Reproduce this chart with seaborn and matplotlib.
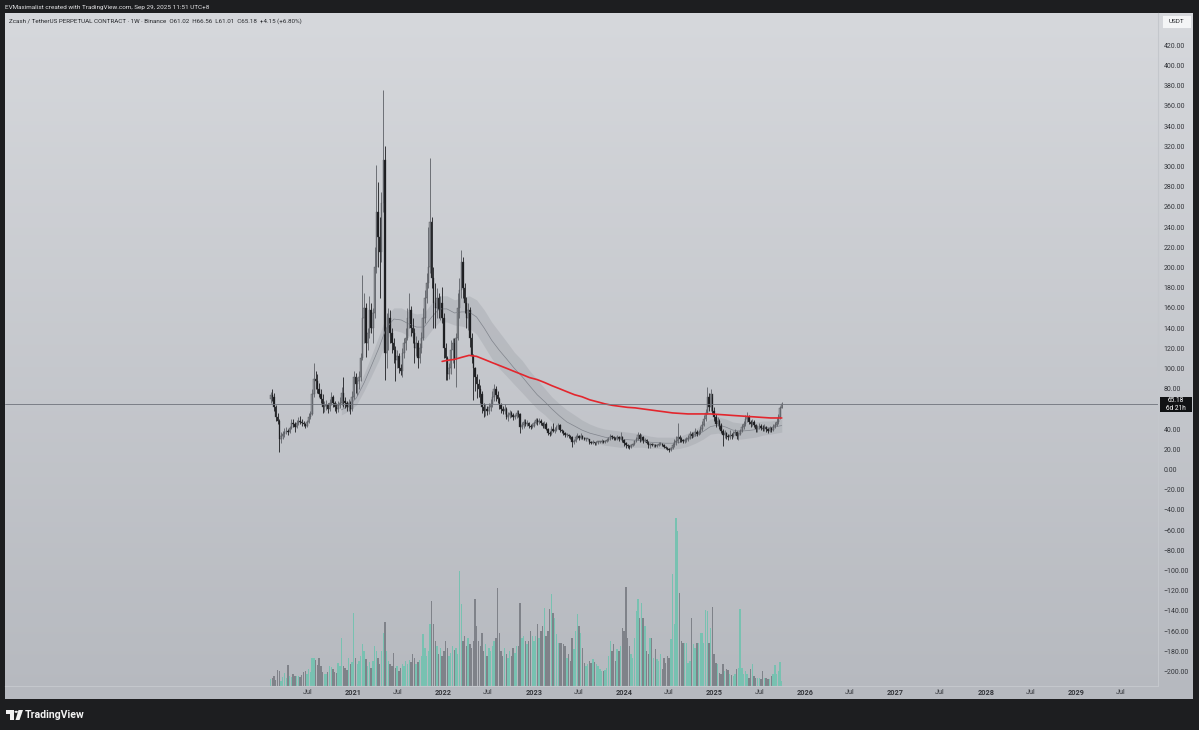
import matplotlib
matplotlib.use("Agg")
import matplotlib.pyplot as plt
from matplotlib.colors import LinearSegmentedColormap
from matplotlib.patches import Circle, Polygon, Rectangle
import numpy as np
import pandas as pd
import seaborn as sns

W, H = 1199, 730

# weekly ZEC/USDT perp candles, first week starts 2020-02-03
first_open = 70.0
close_2020 = [74, 72, 62, 52, 48, 30, 33, 35, 37, 38, 37, 41, 46, 45, 42, 46, 48, 47, 46, 45,
              43, 47, 52, 55, 75, 90, 88, 80, 75, 70, 62, 63, 64, 60, 66, 72, 66, 62, 60, 64,
              66, 76, 68, 66, 62, 66, 60, 72]
high_2020 = [77, 80, 76, 64, 56, 50, 37, 38, 41, 42, 40, 43, 50, 50, 47, 49, 52, 53, 50, 48,
             46, 49, 56, 58, 80, 105, 98, 95, 86, 80, 75, 68, 69, 66, 70, 77, 74, 68, 66, 68,
             72, 82, 92, 72, 68, 70, 68, 78]
low_2020 = [66, 68, 58, 48, 45, 17, 26, 30, 32, 35, 34, 36, 40, 42, 37, 41, 44, 45, 43, 43,
            41, 42, 46, 50, 54, 72, 80, 76, 72, 66, 56, 57, 59, 56, 58, 64, 62, 58, 56, 57,
            61, 64, 62, 61, 58, 58, 55, 58]

close_2021 = [92, 85, 88, 92, 110, 150, 160, 125, 135, 158, 140, 155, 200, 255, 230, 215, 264, 306, 115, 140,
              150, 135, 125, 118, 108, 112, 100, 98, 115, 125, 130, 150, 158, 140, 135, 120, 125, 110, 120, 130,
              150, 170, 185, 200, 245, 190, 165, 160, 170, 158, 165, 150]
high_2021 = [98, 96, 92, 98, 115, 193, 175, 165, 140, 172, 165, 160, 220, 301, 285, 250, 275, 376, 320, 155,
             160, 158, 140, 130, 122, 118, 115, 104, 120, 130, 140, 160, 175, 162, 150, 140, 132, 128, 125, 136,
             160, 178, 195, 240, 308, 250, 200, 185, 180, 175, 172, 181]
low_2021 = [70, 76, 74, 80, 88, 108, 125, 111, 118, 130, 135, 125, 150, 195, 200, 170, 205, 255, 89, 100,
            118, 125, 115, 105, 88, 100, 96, 94, 92, 110, 118, 128, 140, 132, 125, 105, 112, 100, 105, 115,
            128, 145, 165, 180, 195, 180, 140, 140, 150, 150, 148, 145]

close_2022 = [120, 110, 95, 100, 118, 125, 110, 130, 160, 178, 205, 180, 165, 150, 158, 130, 112, 100, 92, 85,
              80, 75, 62, 58, 60, 58, 62, 65, 72, 80, 74, 70, 64, 60, 58, 60, 52, 54, 56, 54,
              52, 53, 56, 55, 42, 44, 47, 45, 46, 43, 42, 43]
high_2022 = [155, 125, 112, 105, 128, 130, 130, 135, 175, 190, 217, 210, 185, 171, 165, 161, 135, 114, 101, 95,
             90, 84, 78, 66, 65, 63, 66, 70, 78, 85, 83, 78, 72, 66, 63, 65, 62, 57, 59, 58,
             56, 55, 59, 59, 56, 47, 50, 50, 49, 47, 45, 46]
low_2022 = [110, 89, 89, 90, 95, 105, 100, 82, 128, 150, 170, 170, 155, 140, 138, 121, 105, 69, 78, 71,
            72, 66, 56, 52, 53, 54, 55, 58, 62, 68, 68, 66, 60, 56, 55, 55, 50, 48, 51, 52,
            49, 50, 51, 52, 36, 40, 41, 43, 43, 41, 40, 41]

close_2023 = [46, 49, 47, 48, 46, 43, 45, 40, 36, 35, 40, 38, 39, 42, 44, 39, 38, 36, 34, 34,
              33, 32, 27, 28, 32, 33, 31, 33, 31, 30, 30, 30, 27, 26, 27, 26, 27, 27, 27, 28,
              27, 28, 29, 30, 33, 32, 31, 30, 32, 30, 32, 29]
high_2023 = [48, 51, 51, 51, 50, 47, 48, 47, 41, 38, 43, 46, 42, 44, 46, 45, 40, 39, 37, 36,
             35, 34, 33, 30, 34, 36, 34, 36, 34, 32, 31, 31, 30, 28, 29, 27, 28, 28, 28, 30,
             29, 29, 31, 32, 35, 34, 33, 32, 34, 33, 37, 33]
low_2023 = [42, 45, 44, 45, 44, 41, 41, 39, 34, 33, 34, 37, 36, 38, 40, 37, 36, 34, 32, 32,
            31, 30, 22, 25, 27, 30, 29, 30, 30, 29, 28, 29, 25, 25, 25, 24, 24, 25, 26, 26,
            26, 26, 27, 28, 29, 30, 29, 29, 29, 28, 29, 27]

close_2024 = [26, 24, 23, 22, 24, 25, 28, 30, 34, 30, 32, 28, 29, 26, 24, 25, 24, 24, 23, 24,
              25, 25, 24, 22, 21, 20, 19, 21, 24, 27, 28, 32, 30, 29, 28, 29, 30, 31, 35, 33,
              34, 37, 35, 37, 40, 44, 50, 56, 72, 62, 75, 58, 52]
high_2024 = [30, 27, 25, 24, 25, 26, 29, 32, 37, 36, 35, 33, 31, 30, 28, 26, 26, 25, 25, 25,
             27, 27, 26, 25, 23, 22, 21, 22, 26, 30, 33, 46, 34, 32, 30, 31, 32, 34, 38, 37,
             37, 41, 39, 39, 43, 48, 54, 60, 82, 76, 80, 72, 62]
low_2024 = [23, 21, 21, 20, 21, 23, 24, 27, 29, 27, 28, 26, 27, 25, 21, 21, 23, 22, 22, 22,
            23, 24, 23, 21, 20, 19, 17, 18, 20, 22, 24, 26, 27, 27, 26, 26, 27, 28, 30, 31,
            32, 33, 33, 34, 35, 38, 43, 48, 55, 58, 58, 55, 48]

close_2025 = [45, 48, 44, 38, 34, 36, 33, 32, 34, 33, 36, 37, 33, 35, 38, 42, 45, 50, 52, 47,
              45, 47, 44, 40, 42, 43, 41, 40, 42, 40, 38, 41, 39, 42, 44, 47, 52, 61.02, 65.18]
high_2025 = [55, 52, 50, 46, 40, 39, 37, 35, 39, 36, 38, 40, 38, 37, 40, 45, 48, 54, 57, 54,
             49, 50, 49, 45, 44, 46, 45, 44, 45, 43, 41, 43, 42, 45, 47, 51, 55, 63, 66.56]
low_2025 = [42, 43, 40, 36, 23, 31, 30, 29, 30, 30, 32, 34, 30, 29, 34, 37, 40, 43, 47, 45,
            42, 43, 42, 37, 37, 40, 39, 38, 38, 37, 36, 37, 37, 38, 41, 43, 45, 50, 61.01]

volume_2020 = [7, 8, 10, 6, 16, 15, 5, 9, 13, 8, 21, 10, 9, 12, 10, 10, 10, 9, 11, 14,
               15, 12, 17, 14, 28, 28, 26, 21, 28, 20, 14, 12, 12, 14, 20, 19, 17, 14, 13, 23,
               20, 48, 20, 18, 16, 28, 22, 24]
volume_2021 = [73, 28, 22, 25, 30, 42, 35, 27, 20, 24, 18, 25, 40, 35, 28, 22, 35, 53, 64, 35,
               25, 22, 20, 33, 18, 20, 15, 18, 22, 20, 25, 22, 26, 24, 32, 28, 22, 24, 26, 30,
               52, 38, 30, 35, 62, 85, 62, 45, 40, 32, 38, 30]
volume_2022 = [35, 45, 38, 30, 33, 40, 36, 38, 32, 115, 82, 45, 50, 40, 48, 42, 38, 45, 87, 60,
               45, 40, 53, 35, 42, 30, 38, 35, 40, 45, 48, 98, 53, 35, 30, 38, 32, 28, 35, 30,
               38, 33, 40, 40, 83, 48, 50, 45, 42, 45, 55, 50]
volume_2023 = [45, 50, 62, 48, 55, 60, 78, 50, 55, 77, 92, 73, 68, 52, 43, 43, 43, 42, 40, 28,
               32, 25, 48, 37, 55, 72, 60, 53, 38, 23, 20, 22, 25, 23, 27, 24, 22, 20, 17, 15,
               15, 16, 18, 30, 45, 35, 42, 25, 37, 35, 40, 58]
volume_2024 = [55, 99, 48, 40, 32, 28, 48, 75, 87, 68, 83, 68, 60, 35, 32, 48, 48, 28, 37, 27,
               25, 32, 17, 28, 23, 30, 28, 47, 112, 62, 168, 155, 93, 45, 43, 43, 43, 23, 25, 68,
               42, 38, 43, 43, 53, 53, 43, 76, 75, 43, 58, 79, 32]
volume_2025 = [23, 22, 13, 12, 22, 15, 17, 16, 12, 11, 10, 12, 17, 18, 77, 18, 12, 15, 12, 8,
               17, 22, 10, 8, 8, 8, 7, 15, 8, 8, 7, 7, 10, 12, 21, 12, 15, 24, 5]

# red long EMA
ema_dates = ["2021-12-27", "2022-01-15", "2022-02-15", "2022-03-15", "2022-04-15", "2022-05-15",
             "2022-06-15", "2022-07-15", "2022-08-15", "2022-09-15", "2022-10-15", "2022-11-15",
             "2022-12-15", "2023-01-15", "2023-02-15", "2023-03-15", "2023-04-15", "2023-05-15",
             "2023-06-15", "2023-07-15", "2023-08-15", "2023-09-15", "2023-10-15", "2023-11-15",
             "2023-12-15", "2024-01-15", "2024-02-15", "2024-03-15", "2024-04-15", "2024-05-15",
             "2024-06-15", "2024-07-15", "2024-08-15", "2024-09-15", "2024-10-15", "2024-11-15",
             "2024-12-15", "2025-01-15", "2025-02-15", "2025-03-15", "2025-04-15", "2025-05-15",
             "2025-06-15", "2025-07-15", "2025-08-15", "2025-09-29"]
ema_values = [107, 108, 109, 111, 113, 112, 109, 106, 103, 100, 97, 94,
              91, 89, 86, 83, 80, 77, 74, 72, 69, 67, 65, 63.5,
              62.5, 61.5, 61, 60, 59, 58, 57, 56, 55.5, 55, 55, 55,
              55, 54.5, 54, 53.5, 53, 52.5, 52, 51.5, 51, 51]

# grey channel
band_dates = ["2020-11-15", "2020-12-15", "2021-01-15", "2021-02-15", "2021-03-15", "2021-04-15",
              "2021-05-15", "2021-06-15", "2021-07-15", "2021-08-15", "2021-09-15", "2021-10-15",
              "2021-11-15", "2021-12-15", "2022-01-15", "2022-02-15", "2022-03-15", "2022-04-15",
              "2022-05-15", "2022-06-15", "2022-07-15", "2022-08-15", "2022-09-15", "2022-10-15",
              "2022-11-15", "2022-12-15", "2023-01-15", "2023-02-15", "2023-03-15", "2023-04-15",
              "2023-05-15", "2023-06-15", "2023-07-15", "2023-08-15", "2023-09-15", "2023-10-15",
              "2023-11-15", "2023-12-15", "2024-01-15", "2024-02-15", "2024-03-15", "2024-04-15",
              "2024-05-15", "2024-06-15", "2024-07-15", "2024-08-15", "2024-09-15", "2024-10-15",
              "2024-11-15", "2024-12-15", "2025-01-15", "2025-02-15", "2025-03-15", "2025-04-15",
              "2025-05-15", "2025-06-15", "2025-07-15", "2025-08-15", "2025-09-29"]
band_upper = [64, 68, 78, 95, 112, 132, 152, 160, 160, 156, 154, 155,
              165, 172, 172, 168, 170, 172, 168, 158, 146, 136, 126, 116,
              108, 98, 89, 80, 72, 65, 59, 54, 49, 45, 42, 40,
              39, 38, 37, 36, 35, 33, 32, 32, 32, 33, 36, 40,
              45, 50, 52, 50, 47, 46, 46, 47, 48, 48, 50]
band_mid = [59, 63, 71, 86, 102, 120, 140, 149, 148, 144, 141, 141,
            151, 159, 159, 155, 156, 156, 151, 140, 128, 118, 109, 100,
            92, 83, 74, 67, 60, 53, 47, 43, 39, 36, 34, 32,
            31, 30, 29.5, 29, 28.5, 27, 26.5, 26, 26, 27, 29.5, 33,
            37.5, 42.5, 44, 42, 39, 38, 38.5, 39.5, 41, 41.5, 43.5]
band_lower = [54, 58, 64, 78, 92, 108, 128, 138, 136, 132, 128, 128,
              138, 146, 146, 143, 142, 140, 134, 122, 110, 100, 92, 84,
              76, 68, 60, 54, 47, 41, 36, 32, 29, 27, 26, 24,
              23, 22, 22, 22, 22, 21, 21, 20, 20, 21, 23, 26,
              30, 35, 36, 34, 31, 30, 31, 32, 34, 35, 37]

price_ticks = list(range(-200, 421, 20))
time_tick_dates = ["2020-07-01", "2021-01-01", "2021-07-01", "2022-01-01", "2022-07-01",
                   "2023-01-01", "2023-07-01", "2024-01-01", "2024-07-01", "2025-01-01",
                   "2025-07-01", "2026-01-01", "2026-07-01", "2027-01-01", "2027-07-01",
                   "2028-01-01", "2028-07-01", "2029-01-01", "2029-07-01"]
time_tick_labels = ["Jul", "2021", "Jul", "2022", "Jul", "2023", "Jul", "2024", "Jul", "2025",
                    "Jul", "2026", "Jul", "2027", "Jul", "2028", "Jul", "2029", "Jul"]

title = ("Zcash / TetherUS PERPETUAL CONTRACT \u00b7 1W \u00b7 Binance  O61.02  H66.56  "
         "L61.01  C65.18  +4.15 (+6.80%)")
header = "EVMaximalist created with TradingView.com, Sep 29, 2025 11:51 UTC+8"

UP_BODY, DOWN_BODY = "#9a9da3", "#1c1d20"
UP_WICK, DOWN_WICK = "#5d6066", "#1c1d20"
VOL_UP, VOL_DOWN = "#78c1b1", "#7f8289"
RED = "#e3262d"


def box(x0, y0, x1, y1):
    # pixel box (from top-left) -> figure fraction rect
    return [x0 / W, 1 - y1 / H, (x1 - x0) / W, (y1 - y0) / H]


def fx(x):
    return x / W


def fy(y):
    return 1 - y / H


df = pd.DataFrame({
    "close": close_2020 + close_2021 + close_2022 + close_2023 + close_2024 + close_2025,
    "high": high_2020 + high_2021 + high_2022 + high_2023 + high_2024 + high_2025,
    "low": low_2020 + low_2021 + low_2022 + low_2023 + low_2024 + low_2025,
    "volume": volume_2020 + volume_2021 + volume_2022 + volume_2023 + volume_2024 + volume_2025,
})
df["date"] = pd.date_range("2020-02-03", periods=len(df), freq="7D")
df["open"] = df["close"].shift(1).fillna(first_open)
df["up"] = df["close"] >= df["open"]
last_close = df["close"].iloc[-1]

ema = pd.DataFrame({"date": pd.to_datetime(ema_dates), "ema": ema_values})
band = pd.DataFrame({"date": pd.to_datetime(band_dates), "upper": band_upper,
                     "mid": band_mid, "lower": band_lower})

sns.set_style("white")
plt.rcParams["font.family"] = ["Roboto", "DejaVu Sans"]

fig = plt.figure(figsize=(W / 100, H / 100), dpi=100, facecolor="#1d1e20")

# panel background gradient
bg = fig.add_axes(box(5, 13, 1193, 699), zorder=0)
grad = np.linspace(0, 1, 256)[:, None]
bg.imshow(grad, aspect="auto", extent=[0, 1, 0, 1],
          cmap=LinearSegmentedColormap.from_list("panel", ["#d6d8dc", "#b6b9bf"]))
bg.set_axis_off()

x_left, x_right = pd.Timestamp("2017-02-25"), pd.Timestamp("2029-11-27")
y_low, y_high = -214.4, 452

vol_ax = fig.add_axes(box(5, 13, 1158, 686), zorder=1)
vol_ax.patch.set_visible(False)
vol_ax.bar(df["date"], df["volume"], width=5.6,
           color=np.where(df["up"], VOL_UP, VOL_DOWN), linewidth=0)
vol_ax.set_xlim(x_left, x_right)
vol_ax.set_ylim(0, df["volume"].max() * 4.0)
vol_ax.set_axis_off()

ax = fig.add_axes(box(5, 13, 1158, 686), zorder=2)
ax.patch.set_visible(False)

# channel
ax.fill_between(band["date"], band["lower"], band["upper"], color="#969aa1", alpha=0.3,
                linewidth=0)
sns.lineplot(data=band, x="date", y="mid", ax=ax, color="#80848c", linewidth=0.5, legend=False)

# candles
ax.vlines(df["date"], df["low"], df["high"],
          colors=np.where(df["up"], UP_WICK, DOWN_WICK), linewidth=0.6)
body = (df["close"] - df["open"]).abs().clip(lower=0.9)
ax.bar(df["date"], body, bottom=df[["open", "close"]].min(axis=1), width=5.6,
       color=np.where(df["up"], UP_BODY, DOWN_BODY), edgecolor="#3c3e42", linewidth=0.25)

sns.lineplot(data=ema, x="date", y="ema", ax=ax, color=RED, linewidth=1.2, legend=False)

ax.axhline(last_close, color="#6f737b", linewidth=0.6)

ax.set_xlim(x_left, x_right)
ax.set_ylim(y_low, y_high)
ax.set_xlabel("")
ax.set_ylabel("")

# the price tag hides the scale label next to it, as on TradingView
shown_ticks = [t for t in price_ticks if abs(t - last_close) > 8]
ax.yaxis.tick_right()
ax.set_yticks(shown_ticks)
ax.set_yticklabels([f"{v:.2f}".replace("-", "\u2212") for v in shown_ticks])
ax.tick_params(axis="y", length=0, pad=4.2, labelsize=5.0, labelcolor="#34363b")

ax.set_xticks(pd.to_datetime(time_tick_dates))
ax.set_xticklabels(time_tick_labels)
ax.tick_params(axis="x", length=0, pad=2.4, labelsize=5.2, labelcolor="#34363b")
for lbl in ax.get_xticklabels():
    if lbl.get_text() != "Jul":
        lbl.set_fontweight("bold")

for side in ["top", "left"]:
    ax.spines[side].set_visible(False)
for side in ["right", "bottom"]:
    ax.spines[side].set_color("#c4c7cc")
    ax.spines[side].set_linewidth(0.8)

# header / title
fig.text(fx(5), fy(7), header, color="#e4e4e6", fontsize=4.6, va="center")
fig.text(fx(9), fy(21), title, color="#26282c", fontsize=4.5, va="center")

# currency box
fig.patches.append(Rectangle((fx(1162), fy(28)), (1191 - 1162) / W, 13 / H,
                             transform=fig.transFigure, facecolor="#f4f5f6",
                             edgecolor="#d0d3d7", linewidth=0.5, zorder=5))
fig.text(fx(1176.5), fy(21.5), "USDT", color="#26282c", fontsize=4.6, ha="center",
         va="center", zorder=6)

# last price tag
fig.patches.append(Rectangle((fx(1160), fy(412)), (1192 - 1160) / W, 15 / H,
                             transform=fig.transFigure, facecolor="#111214",
                             edgecolor="none", zorder=5))
fig.text(fx(1176), fy(400.8), f"{last_close:.2f}", color="white", fontsize=4.7,
         ha="center", va="center", zorder=6)
fig.text(fx(1176), fy(408.4), "6d 21h", color="white", fontsize=4.7,
         ha="center", va="center", zorder=6)

# footer logo
logo = "#f2f2f2"
fig.patches.append(Polygon([(fx(6), fy(710)), (fx(14), fy(710)), (fx(14), fy(720)),
                            (fx(10.5), fy(720)), (fx(10.5), fy(713.5)), (fx(6), fy(713.5))],
                           closed=True, transform=fig.transFigure, facecolor=logo,
                           edgecolor="none"))
fig.patches.append(Circle((fx(16.2), fy(711.8)), 1.7 / W, transform=fig.transFigure,
                          facecolor=logo, edgecolor="none"))
fig.patches.append(Polygon([(fx(18.5), fy(710)), (fx(23), fy(710)), (fx(19.5), fy(720)),
                            (fx(15.5), fy(720))],
                           closed=True, transform=fig.transFigure, facecolor=logo,
                           edgecolor="none"))
fig.text(fx(25), fy(715), "TradingView", color=logo, fontsize=7.6, fontweight="bold",
         va="center")

fig.savefig("out.png", dpi=100, facecolor=fig.get_facecolor())
